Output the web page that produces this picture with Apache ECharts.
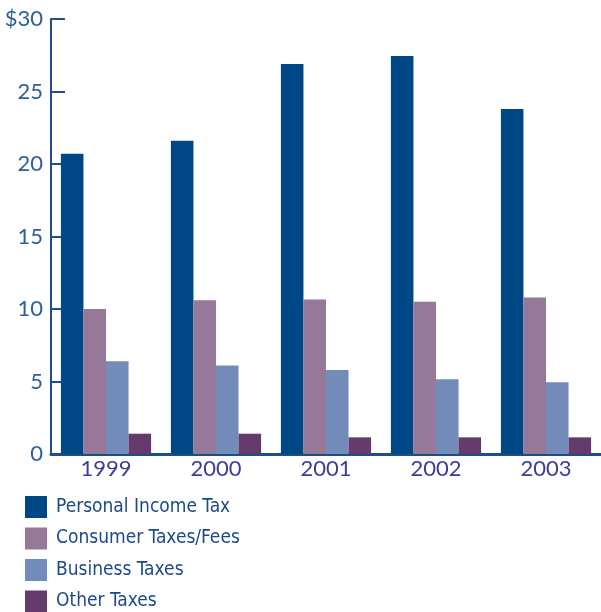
<!DOCTYPE html>
<html>
<head>
<meta charset="utf-8">
<script src="https://cdn.jsdelivr.net/npm/echarts@6/dist/echarts.min.js"></script>
<style>
  html, body { margin: 0; padding: 0; background: #fff; }
  #chart { width: 601px; height: 612px; }
</style>
</head>
<body>
<div id="chart"></div>
<script>
// data
const years = ['1999', '2000', '2001', '2002', '2003']
const personalIncome = [20.7, 21.6, 26.9, 27.45, 23.8]
const consumerTaxes = [10.0, 10.6, 10.65, 10.5, 10.8]
const businessTaxes = [6.4, 6.1, 5.8, 5.15, 4.95]
const otherTaxes = [1.4, 1.4, 1.15, 1.15, 1.15]

const seriesNames = ['Personal Income Tax', 'Consumer Taxes/Fees', 'Business Taxes', 'Other Taxes']
const colors = ['#004785', '#967999', '#738bb8', '#653a6d']

const chart = echarts.init(document.getElementById('chart'))

function bar(name, data, color) {
  return {
    name,
    type: 'bar',
    data,
    barGap: 0,
    barCategoryGap: '18%',
    itemStyle: { color },
    emphasis: { disabled: true },
  }
}

// one legend per row so nothing wraps into a second column
const legends = seriesNames.map((name, i) => ({
  orient: 'vertical',
  left: 25,
  top: 496 + i * 31.5,
  padding: 0,
  itemWidth: 22,
  itemHeight: 22,
  icon: 'rect',
  selectedMode: false,
  data: [name],
  textStyle: {
    fontFamily: "'DejaVu Sans Condensed', 'Liberation Sans Narrow', Roboto, sans-serif",
    fontSize: 19,
    color: '#1b4a87',
    padding: [0, 0, 0, 4],
  },
}))

chart.setOption({
  animation: false,
  grid: { left: 51, right: 0, top: 19, bottom: 158, containLabel: false },
  legend: legends,
  xAxis: {
    type: 'category',
    data: years,
    axisLine: { lineStyle: { color: '#1a4f8a', width: 3 } },
    axisTick: { show: false },
    axisLabel: {
      margin: 4,
      fontFamily: 'Lato',
      fontSize: 22,
      color: '#3d3d99',
    },
  },
  yAxis: {
    type: 'value',
    min: 0,
    max: 30,
    interval: 5,
    splitLine: { show: false },
    axisLine: { show: true, lineStyle: { color: '#1f4e8c', width: 2 } },
    axisTick: { show: true, inside: true, length: 14, lineStyle: { color: '#1f4e8c', width: 2 } },
    axisLabel: {
      margin: 8,
      fontFamily: 'Lato',
      fontSize: 22,
      color: '#2e6098',
      formatter: v => (v === 30 ? '$30' : String(v)),
    },
  },
  series: [
    bar(seriesNames[0], personalIncome, colors[0]),
    bar(seriesNames[1], consumerTaxes, colors[1]),
    bar(seriesNames[2], businessTaxes, colors[2]),
    bar(seriesNames[3], otherTaxes, colors[3]),
  ],
})
</script>
</body>
</html>
